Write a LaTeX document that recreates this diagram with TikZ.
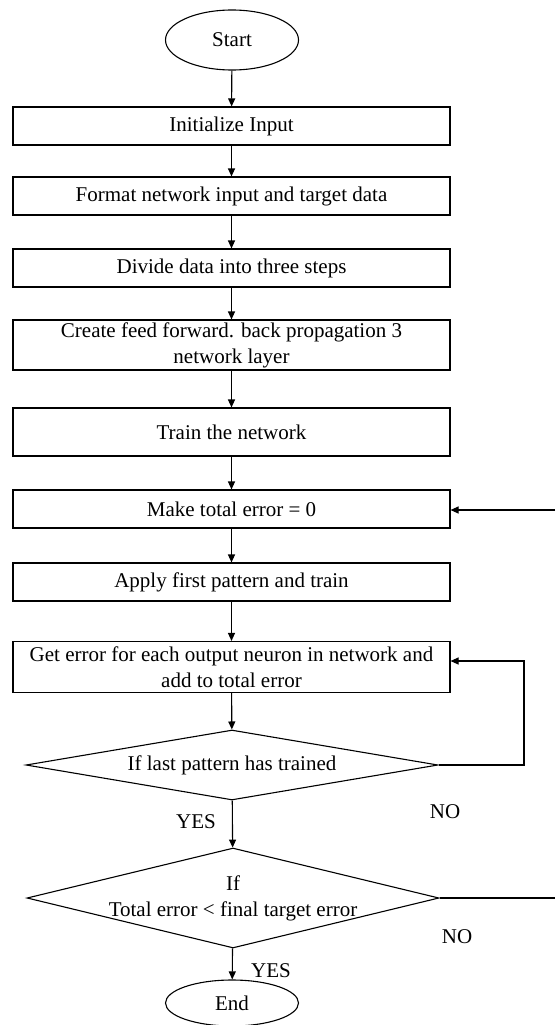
\documentclass[tikz,border=0pt]{standalone}
\usepackage{fontspec}
\setmainfont{Liberation Serif}
\usetikzlibrary{shapes.geometric,arrows.meta,calc}
\tikzset{
  every node/.style={font=\fontsize{21}{26}\selectfont},
  procbox/.style={draw, rectangle, minimum width=437pt, align=center, inner sep=2pt, line width=1.1pt},
  term/.style={draw, ellipse, minimum width=133pt, line width=1.1pt, inner sep=0pt},
  dia/.style={draw, diamond, minimum width=412pt, inner sep=0pt, line width=1.1pt},
  txt/.style={align=center, inner sep=0pt},
  arr/.style={-{Triangle[length=8pt,width=7pt]}, line width=1.1pt},
  ln/.style={line width=1.1pt}
}
\begin{document}
\begin{tikzpicture}[x=1pt,y=-1pt]
\useasboundingbox (0,0) rectangle (555,1025);
\node[term, minimum height=60pt] (start) at (232,40) {Start};
\node[procbox, minimum height=38pt] (init) at (231.5,126) {Initialize Input};
\node[procbox, minimum height=38pt] (fmt) at (231.5,196) {Format network input and target data};
\node[procbox, minimum height=38pt] (div) at (231.5,268) {Divide data into three steps};
\node[procbox, minimum height=50pt] (create) at (231.5,345) {Create feed forward. back propagation 3\\network layer};
\node[procbox, minimum height=48pt] (train) at (231.5,432) {Train the network};
\node[procbox, minimum height=38pt] (make) at (231.5,509) {Make total error = 0};
\node[procbox, minimum height=38pt] (apply) at (231.5,582) {Apply first pattern and train};
\node[procbox, minimum height=51pt] (get) at (231.5,667) {Get error for each output neuron in network and\\add to total error};
\node[dia, minimum height=70pt] (d1) at (232,765) {};
\node[txt] (d1t) at (d1) {If last pattern has trained};
\node[dia, minimum height=100pt] (d2) at (233,898) {};
\node[txt] (d2t) at (d2) {If\\Total error < final target error};
\node[term, minimum height=46pt] (end) at (232,1003) {End};

\node[txt] (yes1) at (196,822) {YES};
\node[txt] (no1) at (445,812) {NO};
\node[txt] (no2) at (457,937) {NO};
\node[txt] (yes2) at (271,971) {YES};

\draw[arr] (start) -- (init);
\draw[arr] (init) -- (fmt);
\draw[arr] (fmt) -- (div);
\draw[arr] (div) -- (create);
\draw[arr] (create) -- (train);
\draw[arr] (train) -- (make);
\draw[arr] (make) -- (apply);
\draw[arr] (apply) -- (get);
\draw[arr] (get) -- (d1);
\draw[arr] (d1) -- (d2);
\draw[arr] (d2) -- (end);

\coordinate (mkin) at (555,510);
\draw[arr] (mkin) -- (make.east |- mkin);
\coordinate (lp) at (524,661);
\draw[arr] (d1.east) -| (lp) -- (get.east |- lp);
\coordinate (out2) at (555,898);
\draw[ln] (d2.east) -- (out2);
\end{tikzpicture}
\end{document}
